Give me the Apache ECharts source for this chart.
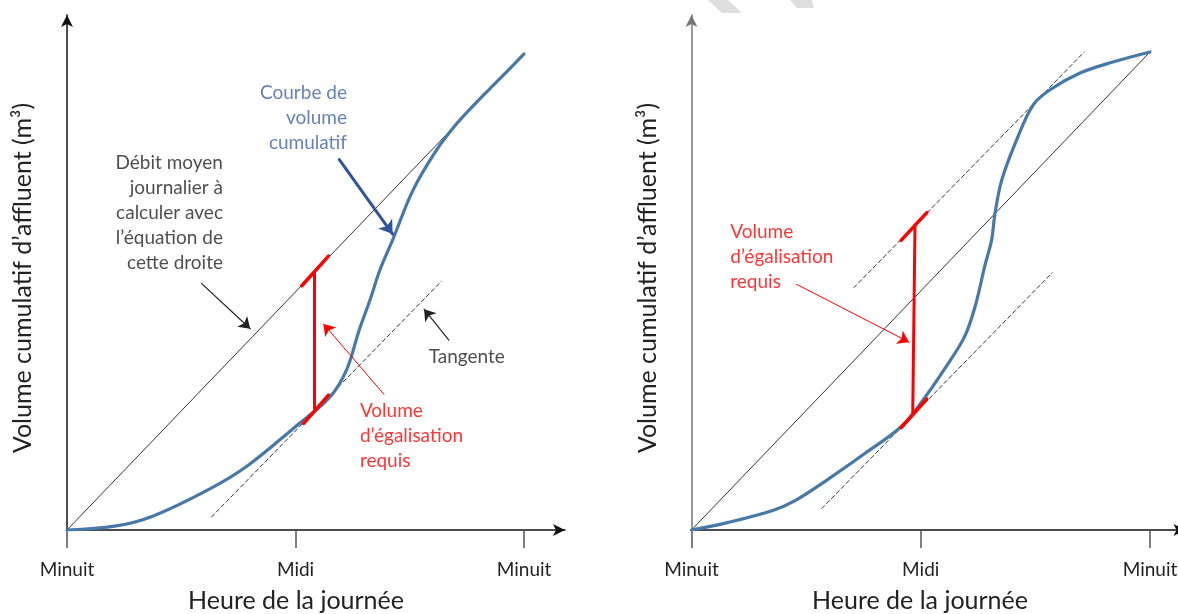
<!DOCTYPE html>
<html lang="fr">
<head>
<meta charset="UTF-8">
<title>Volume d'égalisation</title>
<script src="https://cdn.jsdelivr.net/npm/echarts@6/dist/echarts.min.js"></script>
<style>
  html, body { margin: 0; padding: 0; background: #fff; }
  #chart { width: 1178px; height: 614px; }
</style>
</head>
<body>
<div id="chart"></div>
<script>
// axe des heures
var tickValues = [0, 12, 24];
var tickLabels = ['Minuit', 'Midi', 'Minuit'];

// panneau gauche : courbe de volume cumulatif (heure, % du volume)
var leftCurve = [[0,0],[2.5,0.8],[4.5,2.9],[7.5,8.6],[9.5,13.5],[11.9,21.3],[13.8,27.8],
  [14.68,33.5],[15.34,41.8],[15.91,48.1],[16.43,54.4],[17.1,60.7],[18.17,71.1],[19.41,79.5],
  [20.38,84.6],[21.2,88.2],[22.2,92.3],[23.2,96.3],[24,99.6]];
var leftMean = [[0,0],[20.4,84.7]];
var leftTangent = [[7.58,2.7],[19.65,52.0]];
var leftBar = [[12.97,53.8],[12.97,25.4]];
var leftTickTop = [[12.33,51.1],[13.73,57.3]];
var leftTickBottom = [[12.43,22.3],[13.73,28.2]];
var leftArrowMean = [[7.06,51.6],[9.62,42.1]];
var leftArrowTangent = [[20.05,39.7],[18.75,46.2]];
var leftArrowCurve = [[14.3,77.5],[17.1,61.9]];
var leftArrowVolume = [[16.64,28.4],[13.47,43.1]];

// panneau droit
var rightCurve = [[0,0],[1.93,1.6],[4.25,4.1],[5.4,6.1],[7.14,10.6],[9.07,16.0],[11.0,21.7],
  [12.16,27.4],[13.3,34.0],[14.3,40.5],[14.87,47.1],[15.35,55.2],[15.71,60.7],[15.89,66.3],
  [16.24,73.2],[17.02,81.6],[17.88,88.9],[18.77,92.1],[20.34,95.6],[22.06,97.9],[24,100]];
var rightMean = [[0,0],[24,100]];
var rightTangentUp = [[8.5,50.7],[20.56,100]];
var rightTangentLow = [[6.82,4.5],[18.88,53.8]];
var rightBar = [[11.7,63.8],[11.58,24.1]];
var rightTickTop = [[10.97,60.6],[12.32,66.4]];
var rightTickBottom = [[10.97,21.4],[12.32,27.4]];
var rightArrowVolume = [[5.5,51.4],[11.39,39.3]];

var FONT = 'Lato';
var chart = echarts.init(document.getElementById('chart'));

function xAxisCfg(idx, max, color) {
  return {
    type: 'value', gridIndex: idx, min: 0, max: max,
    axisLine: { show: true, symbol: ['none', 'arrow'], symbolSize: [9, 12],
      lineStyle: { color: color, width: 1.5 } },
    axisTick: { show: true, customValues: tickValues, length: 18,
      lineStyle: { color: '#555', width: 1.5 } },
    axisLabel: { show: true, customValues: tickValues, margin: 30,
      fontFamily: FONT, fontSize: 19, color: '#222',
      formatter: function (v) { return tickLabels[tickValues.indexOf(v)] || ''; } },
    splitLine: { show: false }
  };
}
function yAxisCfg(idx, color) {
  return {
    type: 'value', gridIndex: idx, min: 0, max: 107.74,
    axisLine: { show: true, onZero: false, symbol: ['none', 'arrow'], symbolSize: [9, 12],
      lineStyle: { color: color, width: 1.5 } },
    axisTick: { show: false }, axisLabel: { show: false }, splitLine: { show: false }
  };
}
function seg(idx, coords, color, width, type, arrow, size, z) {
  return {
    type: 'lines', coordinateSystem: 'cartesian2d', xAxisIndex: idx, yAxisIndex: idx,
    silent: true, z: z || 3,
    symbol: arrow ? ['none', 'arrow'] : ['none', 'none'], symbolSize: size || 10,
    lineStyle: { color: color, width: width, type: type || 'solid', opacity: 1, cap: 'round' },
    data: [{ coords: coords }]
  };
}
function curve(idx, data) {
  return {
    type: 'line', xAxisIndex: idx, yAxisIndex: idx, data: data, smooth: 0.35,
    showSymbol: false, silent: true, z: 4,
    lineStyle: { color: '#4679A8', width: 3.2, cap: 'round' }
  };
}
function note(idx, x, y, text, color, align) {
  return {
    type: 'scatter', xAxisIndex: idx, yAxisIndex: idx, symbolSize: 0, silent: true, z: 6,
    data: [[x, y]],
    label: { show: true, position: [0, 0], align: align, verticalAlign: 'top',
      formatter: text, fontFamily: FONT, fontSize: 19, lineHeight: 25, color: color }
  };
}

chart.setOption({
  animation: false,
  grid: [
    { left: 67, top: 15, width: 498, height: 515, outerBoundsMode: 'none' },
    { left: 691.5, top: 15, width: 494, height: 515, outerBoundsMode: 'none' }
  ],
  xAxis: [xAxisCfg(0, 26.15, '#111'), xAxisCfg(1, 25.86, '#111')],
  yAxis: [yAxisCfg(0, '#111'), yAxisCfg(1, '#777')],
  series: [
    seg(0, leftMean, '#333', 1),
    seg(0, leftTangent, '#333', 1, [4, 3]),
    curve(0, leftCurve),
    seg(0, leftBar, '#ff0000', 3, 'solid', false, 0, 5),
    seg(0, leftTickTop, '#ff0000', 3.5, 'solid', false, 0, 5),
    seg(0, leftTickBottom, '#ff0000', 3.5, 'solid', false, 0, 5),
    seg(0, leftArrowMean, '#222', 1.2, 'solid', true, [8, 11], 5),
    seg(0, leftArrowTangent, '#222', 1.2, 'solid', true, [8, 11], 5),
    seg(0, leftArrowCurve, '#2F559C', 3, 'solid', true, [11, 13], 5),
    seg(0, leftArrowVolume, '#ff0000', 1, 'solid', true, [8, 11], 5),
    note(0, 14.7, 94.1, 'Courbe de\nvolume\ncumulatif', '#3F62A6', 'right'),
    note(0, 8.19, 79.5, 'Débit moyen\njournalier à\ncalculer avec\nl’équation de\ncette droite', '#222', 'right'),
    note(0, 18.99, 38.8, 'Tangente', '#222', 'left'),
    note(0, 15.38, 27.6, 'Volume\nd’égalisation\nrequis', '#ff0000', 'left'),

    seg(1, rightMean, '#333', 1),
    seg(1, rightTangentUp, '#333', 1, [4, 3]),
    seg(1, rightTangentLow, '#333', 1, [4, 3]),
    curve(1, rightCurve),
    seg(1, rightBar, '#ff0000', 3, 'solid', false, 0, 5),
    seg(1, rightTickTop, '#ff0000', 3.5, 'solid', false, 0, 5),
    seg(1, rightTickBottom, '#ff0000', 3.5, 'solid', false, 0, 5),
    seg(1, rightArrowVolume, '#ff0000', 1, 'solid', true, [8, 11], 5),
    note(1, 2.03, 65.0, 'Volume\nd’égalisation\nrequis', '#ff0000', 'left')
  ],
  graphic: [
    { type: 'polygon', silent: true, shape: { points: [[708,0],[728,0],[742,13],[722,13]] }, style: { fill: '#dedede' } },
    { type: 'polygon', silent: true, shape: { points: [[790,0],[812,0],[814,8],[797,8]] }, style: { fill: '#dedede' } },
    { type: 'text', x: 296, y: 601, silent: true,
      style: { text: 'Heure de la journée', fontFamily: FONT, fontSize: 25, fill: '#222', align: 'center', verticalAlign: 'middle' } },
    { type: 'text', x: 920, y: 601, silent: true,
      style: { text: 'Heure de la journée', fontFamily: FONT, fontSize: 25, fill: '#222', align: 'center', verticalAlign: 'middle' } },
    { type: 'text', x: 23, y: 278, rotation: Math.PI / 2, silent: true,
      style: { text: 'Volume cumulatif d’affluent (m³)', fontFamily: FONT, fontSize: 25, fill: '#222', align: 'center', verticalAlign: 'middle' } },
    { type: 'text', x: 648, y: 278, rotation: Math.PI / 2, silent: true,
      style: { text: 'Volume cumulatif d’affluent (m³)', fontFamily: FONT, fontSize: 25, fill: '#222', align: 'center', verticalAlign: 'middle' } }
  ]
});
</script>
</body>
</html>
